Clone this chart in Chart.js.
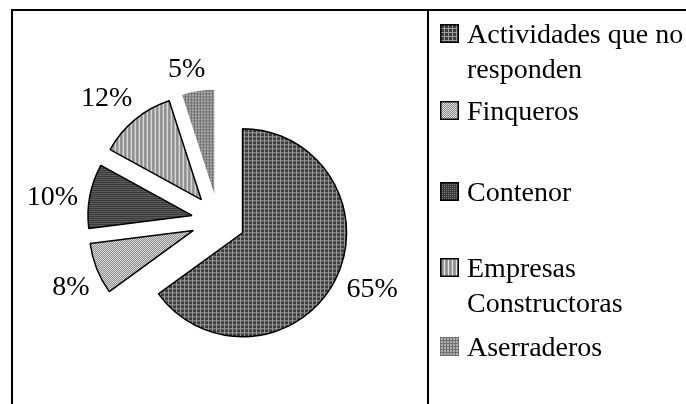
<!DOCTYPE html>
<html>
<head>
<meta charset="utf-8">
<script src="https://cdn.jsdelivr.net/npm/chart.js@4.4.1/dist/chart.umd.min.js"></script>
<style>
  html, body { margin: 0; padding: 0; background: #fff; overflow: hidden; }
  #wrap { position: relative; width: 686px; height: 404px; overflow: hidden; }
  #frame { position: absolute; left: 11px; top: 9px; width: 720px; height: 440px;
           border-left: 2px solid #000; border-top: 2px solid #000; }
  #divider { position: absolute; left: 427px; top: 10px; width: 2px; height: 400px; background: #000; }
  #c { position: absolute; left: 0; top: 0; }
  .sw { position: absolute; left: 440px; }
  .lt { position: absolute; left: 467px; width: 222px;
        font-family: "Liberation Serif", "Times New Roman", serif;
        font-size: 28px; line-height: 35px; color: #000; }
</style>
</head>
<body>
<div id="wrap">
  <div id="frame"></div>
  <div id="divider"></div>
  <canvas id="c" width="686" height="404"></canvas>
  <div id="legend"></div>
</div>
<script>
// ---- data ----
const categories = ['Actividades que no responden', 'Finqueros', 'Contenor', 'Empresas Constructoras', 'Aserraderos'];
const shares = [65, 8, 10, 12, 5];

// ---- layout / style (not data) ----
const PIE_RADIUS = 104;
const EXPLODE_PX = 27;
const LABEL_GAP = 10;
const LABEL_ANGLE_SHIFT = -0.05;
const legendTops = [16, 93, 174, 250, 329];
const SWATCH = 19;

function tile(w, h, draw) {
  const c = document.createElement('canvas');
  c.width = w; c.height = h;
  draw(c.getContext('2d'));
  return c;
}
const tiles = [
  tile(4, 4, g => { g.fillStyle = '#3c3c3c'; g.fillRect(0,0,4,4); g.fillStyle = '#9c9c9c'; g.fillRect(0,0,4,1); g.fillRect(0,0,1,4); }),
  tile(2, 2, g => { g.fillStyle = '#e0e0e0'; g.fillRect(0,0,2,2); g.fillStyle = '#888888'; g.fillRect(0,0,1,1); g.fillRect(1,1,1,1); }),
  tile(2, 2, g => { g.fillStyle = '#3a3a3a'; g.fillRect(0,0,2,2); g.fillStyle = '#7c7c7c'; g.fillRect(0,0,1,1); }),
  tile(4, 1, g => { const cs = ['#e6e6e6','#9a9a9a','#8c8c8c','#a0a0a0']; cs.forEach((c,i)=>{ g.fillStyle=c; g.fillRect(i,0,1,1); }); }),
  tile(3, 3, g => { g.fillStyle = '#b0b0b0'; g.fillRect(0,0,3,3); g.fillStyle = '#707070'; g.fillRect(0,0,3,1); g.fillRect(0,0,1,3); })
];
const hasBorder = [true, true, true, true, false];

const canvas = document.getElementById('c');
const ctx = canvas.getContext('2d');
const patterns = tiles.map(t => ctx.createPattern(t, 'repeat'));

// legend (HTML, built from categories)
const legend = document.getElementById('legend');
categories.forEach((name, i) => {
  const sw = document.createElement('canvas');
  sw.className = 'sw';
  sw.width = SWATCH; sw.height = SWATCH;
  sw.style.top = (legendTops[i] + 8) + 'px';
  const g = sw.getContext('2d');
  g.fillStyle = g.createPattern(tiles[i], 'repeat');
  g.fillRect(0, 0, SWATCH, SWATCH);
  if (hasBorder[i]) { g.strokeStyle = '#000'; g.lineWidth = 1.5; g.strokeRect(0.75, 0.75, SWATCH - 1.5, SWATCH - 1.5); }
  legend.appendChild(sw);
  const t = document.createElement('div');
  t.className = 'lt';
  t.style.top = legendTops[i] + 'px';
  t.textContent = name;
  legend.appendChild(t);
});

// Keep exploded slices at the same radius (Chart.js enlarges offset arcs)
const explodeFix = {
  id: 'explodeFix',
  afterDatasetUpdate(chart, args) {
    args.meta.data.forEach(arc => {
      const ro = EXPLODE_PX * (1 - Math.sin(Math.min(Math.PI, arc.circumference || 0)));
      const R = arc.outerRadius;
      arc.outerRadius = R - ro;
      const extra = ro / (Math.PI * R) / 2;
      arc.startAngle -= extra;
      arc.endAngle += extra;
    });
  }
};

const pctLabels = {
  id: 'pctLabels',
  afterDatasetsDraw(chart) {
    const meta = chart.getDatasetMeta(0);
    const c = chart.ctx;
    c.save();
    c.font = '28px "Liberation Serif", "Times New Roman", serif';
    c.fillStyle = '#000';
    c.textAlign = 'center';
    c.textBaseline = 'middle';
    meta.data.forEach((arc, i) => {
      const mid = (arc.startAngle + arc.endAngle) / 2 + LABEL_ANGLE_SHIFT;
      const dx = Math.cos(mid), dy = Math.sin(mid);
      const txt = shares[i] + '%';
      const w = c.measureText(txt).width, h = 20;
      const d = PIE_RADIUS + EXPLODE_PX + LABEL_GAP + Math.abs(dx) * w / 2 + Math.abs(dy) * h / 2;
      c.fillText(txt, arc.x + dx * d, arc.y + dy * d);
    });
    c.restore();
  }
};

new Chart(canvas, {
  type: 'pie',
  data: {
    labels: categories,
    datasets: [{
      data: shares,
      backgroundColor: patterns,
      borderColor: hasBorder.map(b => b ? '#000' : 'rgba(0,0,0,0)'),
      borderWidth: hasBorder.map(b => b ? 1.5 : 0),
      offset: EXPLODE_PX * 4
    }]
  },
  options: {
    responsive: false,
    animation: false,
    events: [],
    radius: PIE_RADIUS,
    layout: { padding: { left: 0, top: 37, right: 249, bottom: 0 } },
    plugins: { legend: { display: false }, tooltip: { enabled: false } }
  },
  plugins: [explodeFix, pctLabels]
});
</script>
</body>
</html>
